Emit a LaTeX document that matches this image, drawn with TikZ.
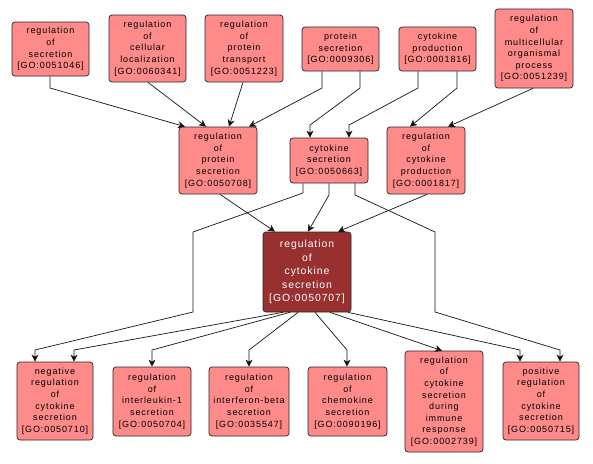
\documentclass[tikz,border=0pt]{standalone}
\usepackage{fontspec}
\setmainfont{Liberation Sans}
\newfontfamily\smallf[LetterSpace=10]{Liberation Sans}
\newfontfamily\bigf[LetterSpace=9]{Liberation Sans}
\usetikzlibrary{arrows.meta}
\definecolor{nodefill}{RGB}{255,138,138}
\definecolor{keyfill}{RGB}{153,48,48}
\definecolor{edgecol}{RGB}{20,20,20}
\begin{document}
\begin{tikzpicture}[x=1pt,y=-1pt,
  gobox/.style={draw=black!85, line width=0.7pt, fill=nodefill, rounded corners=3pt,
    align=center, inner sep=0pt, font=\smallf\fontsize{9}{11.6}\selectfont, text=black},
  keybox/.style={gobox, fill=keyfill, text=white, font=\bigf\fontsize{10.4}{13.5}\selectfont},
  edge/.style={draw=edgecol, line width=0.7pt, -{Stealth[length=7pt,width=7pt,inset=2pt]}}]
\useasboundingbox (0,0) rectangle (593,463);
% top row
\node[gobox, minimum width=77, minimum height=54] (A) at (50.5,49) {regulation\\of\\secretion\\{[GO:0051046]}};
\node[gobox, minimum width=77, minimum height=67] (B) at (147.5,48.5) {regulation\\of\\cellular\\localization\\{[GO:0060341]}};
\node[gobox, minimum width=78, minimum height=67] (C) at (244,48.5) {regulation\\of\\protein\\transport\\{[GO:0051223]}};
\node[gobox, minimum width=77, minimum height=44] (D) at (340.5,49) {protein\\secretion\\{[GO:0009306]}};
\node[gobox, minimum width=77, minimum height=44] (E) at (437.5,49) {cytokine\\production\\{[GO:0001816]}};
\node[gobox, minimum width=78, minimum height=79] (F) at (534,48.5) {regulation\\of\\multicellular\\organismal\\process\\{[GO:0051239]}};
% middle row
\node[gobox, minimum width=78, minimum height=67] (G) at (218,160.5) {regulation\\of\\protein\\secretion\\{[GO:0050708]}};
\node[gobox, minimum width=78, minimum height=45] (H) at (329,160.5) {cytokine\\secretion\\{[GO:0050663]}};
\node[gobox, minimum width=78, minimum height=67] (I) at (426,160.5) {regulation\\of\\cytokine\\production\\{[GO:0001817]}};
% key node
\node[keybox, minimum width=88, minimum height=80] (J) at (307,272) {regulation\\of\\cytokine\\secretion\\{[GO:0050707]}};
% bottom row
\node[gobox, minimum width=76, minimum height=78] (K) at (55,401) {negative\\regulation\\of\\cytokine\\secretion\\{[GO:0050710]}};
\node[gobox, minimum width=78, minimum height=69] (L) at (152,401.5) {regulation\\of\\interleukin-1\\secretion\\{[GO:0050704]}};
\node[gobox, minimum width=80, minimum height=69] (M) at (249,401.5) {regulation\\of\\interferon-beta\\secretion\\{[GO:0035547]}};
\node[gobox, minimum width=79, minimum height=69] (N) at (347.5,401.5) {regulation\\of\\chemokine\\secretion\\{[GO:0090196]}};
\node[gobox, minimum width=78, minimum height=101] (O) at (444,401.5) {regulation\\of\\cytokine\\secretion\\during\\immune\\response\\{[GO:0002739]}};
\node[gobox, minimum width=76, minimum height=78] (P) at (541,401) {positive\\regulation\\of\\cytokine\\secretion\\{[GO:0050715]}};
% edges into G
\draw[edge] (A.south -| 50,0) -- (50,88) -- (G.north -| 185,0);
\draw[edge] (B.south -| 148,0) -- (G.north -| 206,0);
\draw[edge] (C.south -| 243,0) -- (G.north -| 229,0);
\draw[edge] (D.south -| 322,0) -- (322,88) -- (G.north -| 249,0);
% edges into H
\draw[edge] (D.south -| 360,0) -- (360,88) -- (310,125) -- (H.north -| 310,0);
\draw[edge] (E.south -| 418,0) -- (418,88) -- (349,125) -- (H.north -| 349,0);
% edges into I
\draw[edge] (E.south -| 457,0) -- (457,88) -- (I.north -| 410,0);
\draw[edge] (F.south -| 533,0) -- (I.north -| 448,0);
% edges into J
\draw[edge] (G.south -| 220,0) -- (J.north -| 275,0);
\draw[edge] (H.south -| 329,0) -- (329,195) -- (J.north -| 308,0);
\draw[edge] (I.south -| 427,0) -- (J.north -| 338,0);
% H to K and P
\draw[edge] (H.south -| 303,0) -- (303,193) -- (193,232) -- (193,312) -- (35,350) -- (K.north -| 35,0);
\draw[edge] (H.south -| 355,0) -- (355,195) -- (435,232) -- (435,312) -- (560,350) -- (P.north -| 560,0);
% J to bottom row
\draw[edge] (J.south -| 283,0) -- (74,350) -- (K.north -| 74,0);
\draw[edge] (J.south -| 290,0) -- (152,350) -- (L.north -| 152,0);
\draw[edge] (J.south -| 298,0) -- (249,350) -- (M.north -| 249,0);
\draw[edge] (J.south -| 315,0) -- (347,350) -- (N.north -| 347,0);
\draw[edge] (J.south -| 330,0) -- (O.north -| 442,0);
\draw[edge] (J.south -| 348,0) -- (520,350) -- (P.north -| 520,0);
\end{tikzpicture}
\end{document}
